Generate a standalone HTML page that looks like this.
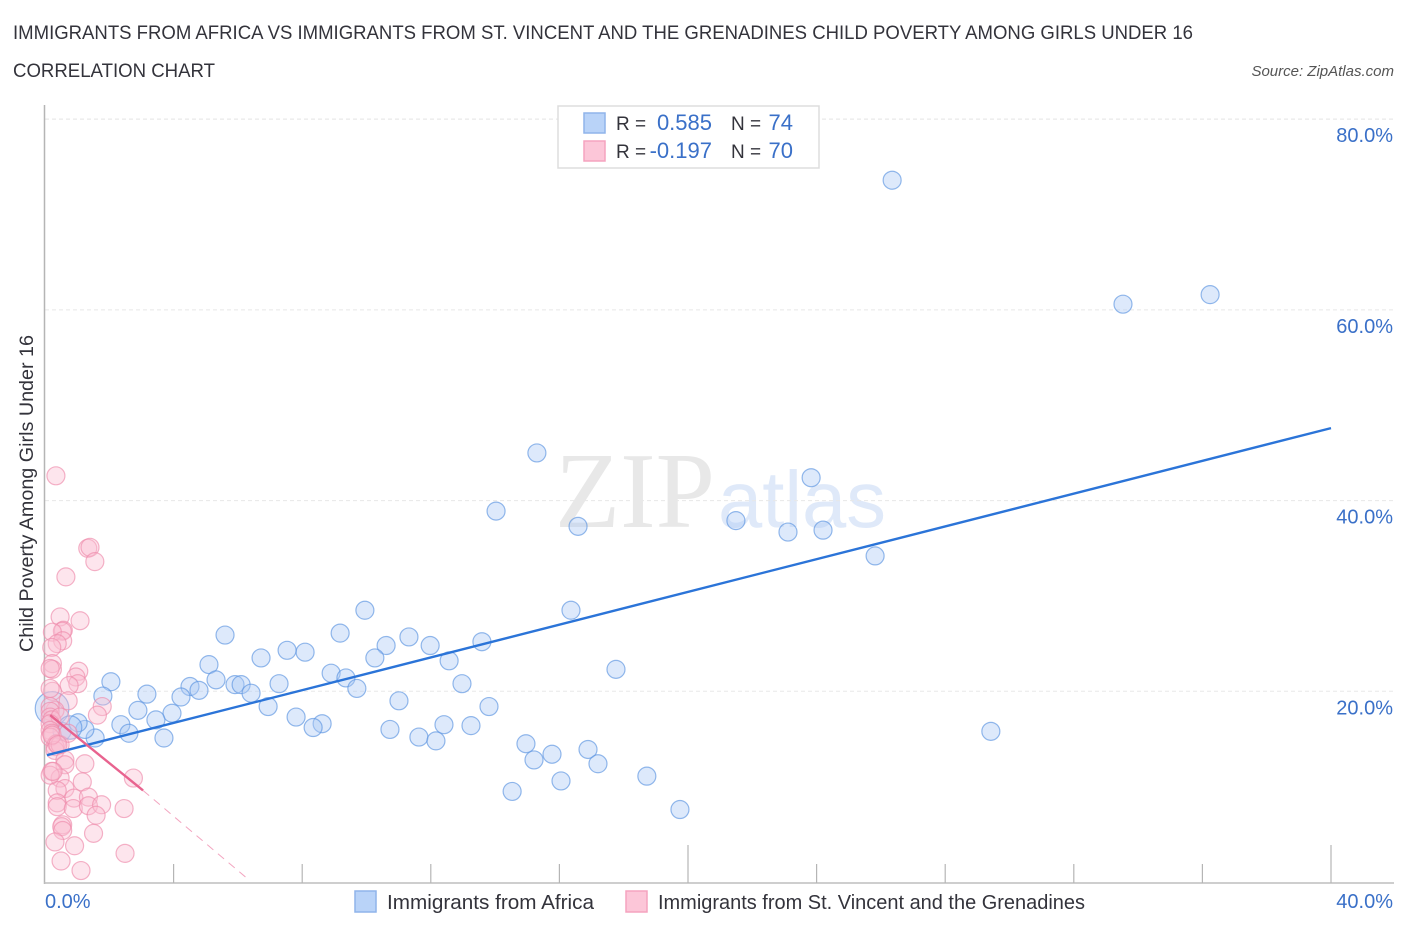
<!DOCTYPE html>
<html lang="en">
<head>
<meta charset="utf-8">
<title>Child Poverty Among Girls Under 16 Correlation Chart</title>
<style>
html,body{margin:0;padding:0;background:#fff;width:1406px;height:930px;overflow:hidden}
svg{display:block;font-family:"Liberation Sans",sans-serif}
</style>
</head>
<body>
<svg id="chart" width="1406" height="930" viewBox="0 0 1406 930" xmlns="http://www.w3.org/2000/svg">
  <rect width="1406" height="930" fill="#ffffff"/>
  <text x="13" y="39" font-size="19" fill="#33333b" textLength="1180" lengthAdjust="spacingAndGlyphs">IMMIGRANTS FROM AFRICA VS IMMIGRANTS FROM ST. VINCENT AND THE GRENADINES CHILD POVERTY AMONG GIRLS UNDER 16</text>
  <text x="13" y="77" font-size="19" fill="#33333b" textLength="202" lengthAdjust="spacingAndGlyphs">CORRELATION CHART</text>
  <text x="1394" y="76" font-size="15" font-style="italic" fill="#555" text-anchor="end">Source: ZipAtlas.com</text>

  <g>
    <text x="555" y="527" font-family="'Liberation Serif',serif" font-size="108" fill="#e8e8e8" textLength="160" lengthAdjust="spacingAndGlyphs">ZIP</text>
    <text x="718" y="527" font-size="80" fill="#dfe9f9" textLength="168" lengthAdjust="spacingAndGlyphs">atlas</text>
  </g>

  <g id="grid"></g>
  <g id="axes"></g>
  <g id="blue-points"></g>
  <g id="pink-points"></g>
  <g id="trends"></g>
  <g id="tick-labels"></g>

  <text transform="translate(33,652) rotate(-90)" font-size="19" fill="#33333b" textLength="317" lengthAdjust="spacingAndGlyphs">Child Poverty Among Girls Under 16</text>

  <g>
    <rect x="558" y="106" width="261" height="62" fill="#ffffff" stroke="#dddddd" stroke-width="1.5"/>
    <rect x="584" y="113" width="21" height="20" fill="#b9d3f8" stroke="#8fb4ea" stroke-width="1.5"/>
    <rect x="584" y="141" width="21" height="20" fill="#fcc6d8" stroke="#f5a3bf" stroke-width="1.5"/>
    <text x="616" y="130" font-size="19" fill="#33333b">R =</text>
    <text x="712" y="130" font-size="22" fill="#3a70c8" text-anchor="end">0.585</text>
    <text x="731" y="130" font-size="19" fill="#33333b">N =</text>
    <text x="793" y="130" font-size="22" fill="#3a70c8" text-anchor="end">74</text>
    <text x="616" y="158" font-size="19" fill="#33333b">R =</text>
    <text x="712" y="158" font-size="22" fill="#3a70c8" text-anchor="end">-0.197</text>
    <text x="731" y="158" font-size="19" fill="#33333b">N =</text>
    <text x="793" y="158" font-size="22" fill="#3a70c8" text-anchor="end">70</text>
  </g>

  <g>
    <rect x="355" y="891" width="21" height="21" fill="#b9d3f8" stroke="#8fb4ea" stroke-width="1.5"/>
    <text x="387" y="909" font-size="20" fill="#33333b" textLength="207" lengthAdjust="spacingAndGlyphs">Immigrants from Africa</text>
    <rect x="626" y="891" width="21" height="21" fill="#fcc6d8" stroke="#f5a3bf" stroke-width="1.5"/>
    <text x="658" y="909" font-size="20" fill="#33333b" textLength="427" lengthAdjust="spacingAndGlyphs">Immigrants from St. Vincent and the Grenadines</text>
  </g>
</svg>
<script>
const blueX = [26.35,33.53,36.24,15.30,14.03,16.58,23.83,21.49,23.11,24.20,25.82,16.36,9.95,9.18,5.60,11.32,10.61,11.98,13.59,8.09,7.53,6.72,10.26,12.57,5.10,17.76,8.90,9.36,7.28,12.97,2.05,1.80,3.17,4.51,4.79,5.32,5.91,6.10,6.41,9.70,4.23,11.01,6.94,13.81,2.89,3.95,3.45,7.81,8.62,8.34,2.36,2.61,3.70,1.56,1.24,10.73,12.41,13.25,11.63,12.16,29.42,14.96,15.77,15.21,16.89,17.20,16.05,18.72,14.53,19.75,1.03,0.53];
const blueY = [73.6,60.6,61.6,45.0,38.9,37.3,42.4,37.9,36.7,36.9,34.2,28.5,28.5,26.1,25.9,25.7,24.8,24.8,25.2,24.1,24.3,23.5,23.5,23.2,22.8,22.3,21.9,21.4,20.8,20.8,21.0,19.5,19.7,20.5,20.1,21.2,20.7,20.7,19.8,20.3,19.4,19.0,18.4,18.4,18.0,17.7,17.0,17.3,16.6,16.2,16.5,15.6,15.1,15.1,16.0,16.0,16.5,16.4,15.2,14.8,15.8,14.5,13.4,12.8,13.9,12.4,10.6,11.1,9.5,7.6,16.7,15.8];
const blueClusterX = [0.22,0.78];
const blueClusterY = [18.2,16.2];
const blueClusterWeight = [3.5,1.7];

const pinkX = [1.33,1.40,1.55,0.65,0.47,1.09,0.57,0.54,0.23,0.55,0.38,0.21,0.23,0.23,0.16,1.05,0.96,1.02,0.75,0.23,0.72,1.78,1.63,0.31,0.16,0.16,0.16,0.21,0.47,0.16,0.16,0.21,0.16,0.36,0.31,0.31,0.62,0.62,1.24,0.21,0.47,2.75,1.16,0.62,0.38,0.38,0.38,0.90,1.35,0.88,1.35,1.76,1.59,2.46,0.55,0.52,0.55,1.51,0.31,0.92,0.50,2.49,1.12,0.16,0.47,0.22,0.72,0.40,0.16,0.25];
const pinkY = [35.0,35.1,33.6,32.0,27.8,27.4,26.4,26.3,26.2,25.3,25.0,24.6,22.9,22.3,22.4,22.1,21.5,20.8,20.6,20.0,19.0,18.4,17.5,18.0,18.4,17.9,17.3,17.0,17.3,16.6,15.9,15.6,15.2,14.5,14.2,13.8,12.8,12.3,12.4,11.6,10.9,10.9,10.5,9.8,9.6,8.3,7.9,8.8,8.9,7.7,8.0,8.1,7.0,7.7,6.0,5.8,5.4,5.1,4.2,3.8,2.2,3.0,1.2,20.3,14.4,15.4,15.6,14.4,11.2,11.6];
const pinkOutlierX = [0.34];
const pinkOutlierY = [42.6];

const blueTrendX = [0.06,40];
const blueTrendY = [13.3,47.6];
const pinkTrendX = [0.16,3.05];
const pinkTrendY = [17.5,9.6];
const pinkDashX = [3.05,6.28];
const pinkDashY = [9.6,0.4];

const yTicks = [20,40,60,80];
const yTickLabels = ["20.0%","40.0%","60.0%","80.0%"];
const xTicks = [4,8,12,16,20,24,28,32,36,40];
const xMajorTicks = [20,40];
const xEndLabels = ["0.0%","40.0%"];
const xEndValues = [0,40];

const NS = "http://www.w3.org/2000/svg";
const xScale = v => 45 + v * 32.15;
const yScale = v => 882 - v * 9.535;
function mk(tag, parentId, attrs){
  const el = document.createElementNS(NS, tag);
  for (const k in attrs) el.setAttribute(k, attrs[k]);
  document.getElementById(parentId).appendChild(el);
  return el;
}

yTicks.forEach(v => {
  const l = mk("line","grid",{x1:45,x2:1393,y1:yScale(v),y2:yScale(v),stroke:"#e8e8e8","stroke-width":1,"stroke-dasharray":"4 3"});
  
  
});
const topGrid = mk("line","grid",{x1:45,x2:1393,y1:119,y2:119,stroke:"#e8e8e8","stroke-width":1,"stroke-dasharray":"4 3"});



const yAxis = mk("line","axes",{x1:44.5,x2:44.5,y1:105,y2:884,stroke:"#b5b5b5","stroke-width":1.5});


const xAxis = mk("line","axes",{x1:44,x2:1394,y1:883,y2:883,stroke:"#bdbdbd","stroke-width":1.5});


xTicks.forEach(v => {
  const top = xMajorTicks.includes(v) ? 845 : 864;
  const t = mk("line","axes",{x1:xScale(v),x2:xScale(v),y1:top,y2:883,stroke:"#b5b5b5","stroke-width":1.2});
  
  
});

function dot(group, x, y, weight, fill, stroke, name){
  const c = mk("circle",group,{cx:xScale(x),cy:yScale(y),r:9*Math.sqrt(weight),fill:fill,"fill-opacity":0.4,stroke:stroke,"stroke-opacity":0.65,"stroke-width":1.2});
  
  
}
blueX.forEach((x,i) => dot("blue-points",x,blueY[i],1,"#a9c9f5","#5b93e0","africa-point"));
blueClusterX.forEach((x,i) => dot("blue-points",x,blueClusterY[i],blueClusterWeight[i],"#a9c9f5","#5b93e0","africa-cluster-point"));
pinkX.forEach((x,i) => dot("pink-points",x,pinkY[i],1,"#f9bdd1","#ee8aab","st-vincent-point"));
pinkOutlierX.forEach((x,i) => dot("pink-points",x,pinkOutlierY[i],1,"#f9bdd1","#ee8aab","st-vincent-outlier-point"));

const bt = mk("line","trends",{x1:xScale(blueTrendX[0]),y1:yScale(blueTrendY[0]),x2:xScale(blueTrendX[1]),y2:yScale(blueTrendY[1]),stroke:"#2b74d8","stroke-width":2.4});


const pt = mk("line","trends",{x1:xScale(pinkTrendX[0]),y1:yScale(pinkTrendY[0]),x2:xScale(pinkTrendX[1]),y2:yScale(pinkTrendY[1]),stroke:"#e8638f","stroke-width":2.4});


const pd = mk("line","trends",{x1:xScale(pinkDashX[0]),y1:yScale(pinkDashY[0]),x2:xScale(pinkDashX[1]),y2:yScale(pinkDashY[1]),stroke:"#f3a5c0","stroke-width":1,"stroke-dasharray":"8 6"});



yTicks.forEach((v,i) => {
  const t = mk("text","tick-labels",{x:1393,y:yScale(v)+23,"font-size":20,fill:"#3a70c8","text-anchor":"end"});
  
  
  t.textContent = yTickLabels[i];
});
xEndValues.forEach((v,i) => {
  const t = mk("text","tick-labels",{x:i===0?xScale(v):1393,y:908,"font-size":20,fill:"#3a70c8","text-anchor":i===0?"start":"end"});
  
  
  t.textContent = xEndLabels[i];
});
</script>
</body>
</html>
